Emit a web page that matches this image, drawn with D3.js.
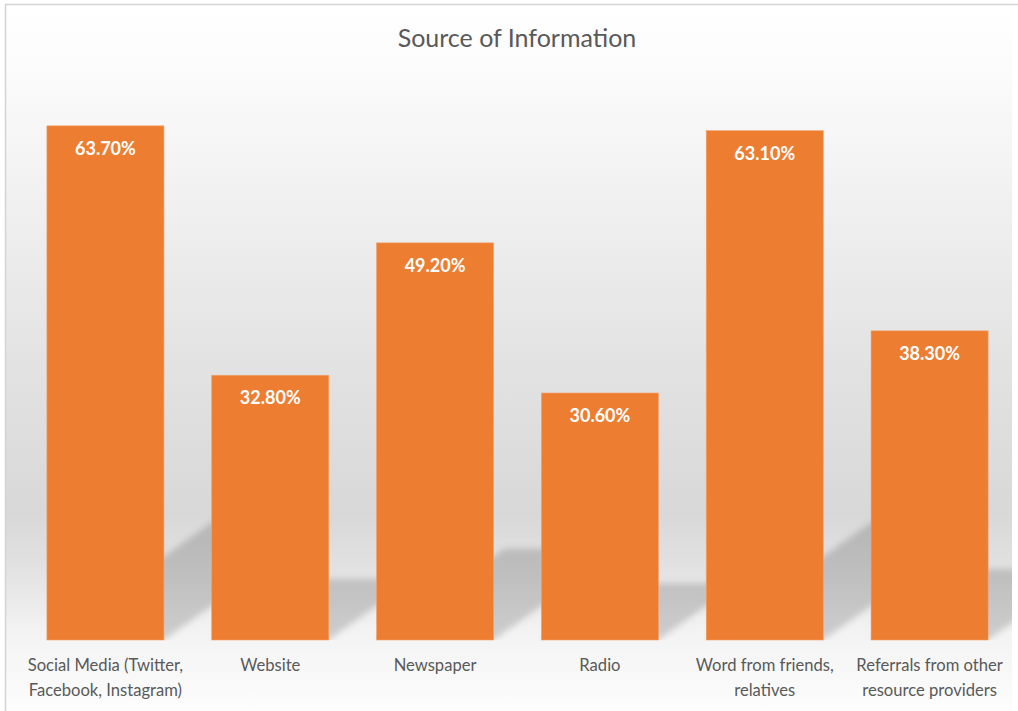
<!DOCTYPE html>
<html>
<head>
<meta charset="utf-8">
<script src="https://cdn.jsdelivr.net/npm/d3@7/dist/d3.min.js"></script>
<style>
  html, body { margin: 0; padding: 0; background: #ffffff; }
  svg { display: block; }
</style>
</head>
<body>
<svg id="chart" width="1018" height="711"></svg>
<script>
// Survey results: where respondents heard about the service
const title = "Source of Information";
const categories = [
  "Social Media (Twitter,\nFacebook, Instagram)",
  "Website",
  "Newspaper",
  "Radio",
  "Word from friends,\nrelatives",
  "Referrals from other\nresource providers"
];
const values = [63.7, 32.8, 49.2, 30.6, 63.1, 38.3];
const valueLabels = ["63.70%", "32.80%", "49.20%", "30.60%", "63.10%", "38.30%"];
const yDomain = [0, 70];

const W = 1018, H = 711;
const frame = { x: 5, y: 4, right: 1012 };
const plot = { left: 23, right: 1012, top: 75, bottom: 640 };
const barColor = "#ED7D31";
const textColor = "#595959";
const font = "Lato, 'Open Sans', sans-serif";

const svg = d3.select("#chart");
const defs = svg.append("defs");

// Chart area background: soft vertical gradient
const bg = defs.append("linearGradient")
  .attr("id", "bgGrad")
  .attr("gradientUnits", "userSpaceOnUse")
  .attr("x1", 0).attr("x2", 0)
  .attr("y1", frame.y).attr("y2", H);
[
  [0.00, "#ffffff"],
  [0.10, "#fbfbfb"],
  [0.30, "#efefef"],
  [0.50, "#e3e3e3"],
  [0.72, "#d8d8d8"],
  [0.80, "#e2e2e2"],
  [0.89, "#f3f3f3"],
  [1.00, "#fdfdfd"]
].forEach(([o, c]) => bg.append("stop").attr("offset", o).attr("stop-color", c));

svg.append("rect")
  .attr("x", frame.x).attr("y", frame.y)
  .attr("width", frame.right - frame.x).attr("height", H - frame.y)
  .attr("fill", "url(#bgGrad)");

// Frame edges
svg.append("line")
  .attr("x1", frame.x).attr("x2", W).attr("y1", frame.y + 0.5).attr("y2", frame.y + 0.5)
  .attr("stroke", "#d4d4d4").attr("stroke-width", 1.5);
svg.append("line")
  .attr("x1", frame.x + 0.5).attr("x2", frame.x + 0.5).attr("y1", frame.y).attr("y2", H)
  .attr("stroke", "#d4d4d4").attr("stroke-width", 1.5);

// Scales
const x = d3.scaleBand()
  .domain(d3.range(categories.length))
  .range([plot.left, plot.right])
  .paddingInner(0.29)
  .paddingOuter(0.145);

const y = d3.scaleLinear()
  .domain(yDomain)
  .range([plot.bottom, plot.top]);

// Floor shadows cast by each bar (perspective, toward upper right)
defs.append("clipPath").attr("id", "plotClip")
  .append("rect")
  .attr("x", plot.left - 30).attr("y", 0)
  .attr("width", plot.right - plot.left + 30).attr("height", plot.bottom);

defs.append("filter").attr("id", "shadowBlur")
  .attr("x", "-20%").attr("y", "-20%").attr("width", "140%").attr("height", "140%")
  .append("feGaussianBlur").attr("stdDeviation", 3);

const shadowScale = 0.23;  // vertical squash of the cast shadow
const shadowSkew = 1.4;    // horizontal run per unit of shadow height

svg.append("g")
  .attr("clip-path", "url(#plotClip)")
  .append("g")
  .attr("filter", "url(#shadowBlur)")
  .selectAll("path")
  .data(values)
  .join("path")
  .attr("d", (d, i) => {
    const x0 = x(i), x1 = x(i) + x.bandwidth();
    const base = y(0);
    const hs = (y(0) - y(d)) * shadowScale;
    const dx = hs * shadowSkew;
    return `M${x0},${base}L${x1},${base}L${x1 + dx},${base - hs}L${x0 + dx},${base - hs}Z`;
  })
  .attr("fill", "#000000")
  .attr("fill-opacity", 0.16);

// Bars
svg.append("g")
  .selectAll("rect")
  .data(values)
  .join("rect")
  .attr("x", (d, i) => x(i))
  .attr("y", d => y(d))
  .attr("width", x.bandwidth())
  .attr("height", d => y(0) - y(d))
  .attr("fill", barColor)
  .attr("stroke", "#f3a06a")
  .attr("stroke-width", 0.6);

// Value labels inside the top of each bar
svg.append("g")
  .selectAll("text")
  .data(values)
  .join("text")
  .attr("x", (d, i) => x(i) + x.bandwidth() / 2)
  .attr("y", d => y(d) + 29)
  .attr("text-anchor", "middle")
  .attr("font-family", font)
  .attr("font-weight", 700)
  .attr("font-size", 18)
  .attr("fill", "#ffffff")
  .text((d, i) => valueLabels[i]);

// Category axis (labels only, no line or ticks)
const xAxis = d3.axisBottom(x)
  .tickSize(0)
  .tickPadding(0)
  .tickFormat(i => categories[i]);

const axisG = svg.append("g")
  .attr("transform", `translate(0,${plot.bottom})`)
  .call(xAxis);
axisG.select(".domain").remove();
axisG.selectAll(".tick text").each(function (i) {
  const t = d3.select(this);
  const lines = categories[i].split("\n");
  t.text(null)
    .attr("y", 0)
    .attr("dy", null)
    .attr("font-family", font)
    .attr("font-size", 16.6)
    .attr("fill", textColor);
  lines.forEach((ln, k) => {
    t.append("tspan")
      .attr("x", 0)
      .attr("y", 31 + k * 25)
      .text(ln);
  });
});

// Title
svg.append("text")
  .attr("x", 517)
  .attr("y", 47)
  .attr("text-anchor", "middle")
  .attr("font-family", font)
  .attr("font-weight", 400)
  .attr("font-size", 25)
  .attr("fill", textColor)
  .text(title);
</script>
</body>
</html>
